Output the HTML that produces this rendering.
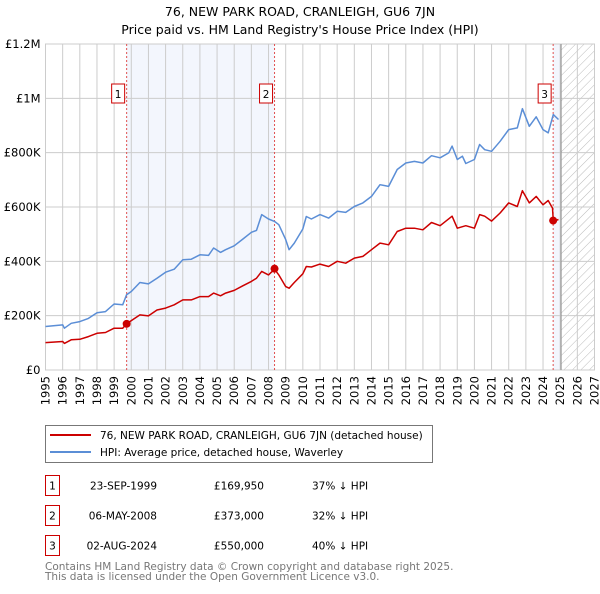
<!DOCTYPE html>
<html><head><meta charset="utf-8"><style>
body{margin:0;background:#fff;width:600px;height:590px;overflow:hidden;font-family:"DejaVu Sans","Liberation Sans",sans-serif}
svg text{font-family:"DejaVu Sans","Liberation Sans",sans-serif}
</style></head><body>
<svg id="c" width="600" height="590"></svg>
<script>
const hpiYears=[1995,1996,1996.1,1996.5,1997,1997.5,1998,1998.5,1999,1999.5,1999.73,2000,2000.5,2001,2001.5,2002,2002.5,2003,2003.5,2004,2004.5,2004.8,2005.2,2005.5,2006,2006.5,2007,2007.3,2007.6,2008,2008.35,2008.6,2009,2009.2,2009.5,2010,2010.2,2010.5,2011,2011.5,2012,2012.5,2013,2013.5,2014,2014.5,2015,2015.5,2016,2016.5,2017,2017.5,2018,2018.5,2018.7,2019,2019.3,2019.5,2020,2020.3,2020.6,2021,2021.5,2022,2022.5,2022.8,2023.2,2023.6,2024,2024.3,2024.6,2024.9];
const hpiValues=[160,166,154,172,178,190,211,215,243,240,277,289,322,317,338,360,371,406,408,424,422,449,433,443,457,482,507,514,572,556,547,535,480,443,467,519,565,556,572,559,584,580,602,615,639,682,676,738,762,768,762,789,781,799,824,775,787,760,775,830,811,805,842,885,891,962,897,932,885,873,940,922];
const paidYears=[1995,1996,1996.1,1996.5,1997,1997.5,1998,1998.5,1999,1999.5,1999.73,2000,2000.5,2001,2001.5,2002,2002.5,2003,2003.5,2004,2004.5,2004.8,2005.2,2005.5,2006,2006.5,2007,2007.3,2007.6,2008,2008.35,2008.6,2009,2009.2,2009.5,2010,2010.2,2010.5,2011,2011.5,2012,2012.5,2013,2013.5,2014,2014.5,2015,2015.5,2016,2016.5,2017,2017.5,2018,2018.7,2019,2019.5,2020,2020.3,2020.6,2021,2021.5,2022,2022.5,2022.8,2023.2,2023.6,2024,2024.3,2024.55,2024.6,2024.9];
const paidValues=[101,105,98,111,113,123,135,138,154,154,170,182,203,199,221,228,240,258,258,270,270,283,273,283,293,310,326,338,363,350,371,350,307,301,322,354,381,379,390,381,400,393,412,418,443,467,461,510,522,522,516,543,531,566,522,531,522,572,566,548,578,615,602,660,615,639,608,624,596,548,554];
const saleYears=[1999.73,2008.35,2024.59];
const saleValues=[170,373,550];
const saleLabels=["1","2","3"];
const yTicks=[0,200,400,600,800,1000,1200];
const yTickLabels=["£0","£200K","£400K","£600K","£800K","£1M","£1.2M"];
const xTicks=[1995,1996,1997,1998,1999,2000,2001,2002,2003,2004,2005,2006,2007,2008,2009,2010,2011,2012,2013,2014,2015,2016,2017,2018,2019,2020,2021,2022,2023,2024,2025,2026,2027];

const NS="http://www.w3.org/2000/svg",svg=document.getElementById('c');
const L=45.5,R=594.5,T=44,B=370;
const x=v=>L+(v-1995)/32*(R-L);
const y=v=>B-v/1200*(B-T);
function el(t,a,p){const e=document.createElementNS(NS,t);for(const k in a)e.setAttribute(k,a[k]);(p||svg).appendChild(e);return e;}
function txt(s,a,p){const e=el('text',a,p);e.textContent=s;return e;}

const defs=el('defs',{});
const pat=el('pattern',{id:'hatch',width:6,height:6,patternUnits:'userSpaceOnUse',patternTransform:'rotate(45)'},defs);
el('line',{x1:0,y1:0,x2:0,y2:6,stroke:'#bbb','stroke-width':1},pat);

let t=txt('76, NEW PARK ROAD, CRANLEIGH, GU6 7JN',{x:300,y:16,'text-anchor':'middle','font-size':12.5,fill:'#000'});

t=txt("Price paid vs. HM Land Registry's House Price Index (HPI)",{x:300,y:34,'text-anchor':'middle','font-size':12.5,fill:'#000'});


let r=el('rect',{x:x(saleYears[0]),y:T,width:x(saleYears[1])-x(saleYears[0]),height:B-T,fill:'#f3f6fd'});

r=el('rect',{x:x(saleYears[2]),y:T,width:x(2025.05)-x(saleYears[2]),height:B-T,fill:'#f3f6fd'});

r=el('rect',{x:x(2025.05),y:T,width:R-x(2025.05),height:B-T,fill:'url(#hatch)'});


xTicks.forEach(v=>{const g=el('line',{x1:x(v),x2:x(v),y1:T,y2:B,stroke:'#ccc','stroke-width':1});

const l=txt(String(v),{transform:`translate(${x(v)+4},${B+6}) rotate(-90)`,'text-anchor':'end','font-size':11.5,fill:'#000'});
});
yTicks.forEach((v,i)=>{const g=el('line',{x1:L,x2:R,y1:y(v),y2:y(v),stroke:'#ccc','stroke-width':1});

const l=txt(yTickLabels[i],{x:L-5,y:y(v)+4,'text-anchor':'end','font-size':11.5,fill:'#000'});
});
const fr=el('rect',{x:L,y:T,width:R-L,height:B-T,fill:'none',stroke:'#ccc','stroke-width':1});

const sep=el('line',{x1:x(2025.05),x2:x(2025.05),y1:T,y2:B,stroke:'#999','stroke-width':1.2});


saleYears.forEach((v,i)=>{const d=el('line',{x1:x(v),x2:x(v),y1:T,y2:B,stroke:'#e05050','stroke-width':1,'stroke-dasharray':'2,2'});

const bx=el('rect',{x:x(v)-15,y:84,width:13,height:19,fill:'#fff',stroke:'#cc0000','stroke-width':1});

const lt=txt(saleLabels[i],{x:x(v)-8.5,y:98,'text-anchor':'middle','font-size':10.5,fill:'#000'});
});

function line(xs,vs,c,name){const p=el('path',{d:xs.map((v,i)=>(i?'L':'M')+x(v).toFixed(1)+','+y(vs[i]).toFixed(1)).join(''),fill:'none',stroke:c,'stroke-width':1.5,'stroke-linejoin':'round'});
}
line(hpiYears,hpiValues,'#5b8ed6','hpi-line');
line(paidYears,paidValues,'#cc0000','price-paid-line');
saleYears.forEach((v,i)=>{const c=el('circle',{cx:x(v),cy:y(saleValues[i]),r:4,fill:'#cc0000'});
});

const lg=el('g',{});
el('rect',{x:45.5,y:425.5,width:387,height:37,fill:'#fff',stroke:'#777','stroke-width':1},lg);
el('line',{x1:50,x2:91,y1:435,y2:435,stroke:'#cc0000','stroke-width':2},lg);
el('line',{x1:50,x2:91,y1:452,y2:452,stroke:'#5b8ed6','stroke-width':2},lg);
t=txt('76, NEW PARK ROAD, CRANLEIGH, GU6 7JN (detached house)',{x:100,y:439,'font-size':10.5,fill:'#000'},lg);

t=txt('HPI: Average price, detached house, Waverley',{x:100,y:456,'font-size':10.5,fill:'#000'},lg);


const rows=[["1","23-SEP-1999","£169,950","37% ↓ HPI"],["2","06-MAY-2008","£373,000","32% ↓ HPI"],["3","02-AUG-2024","£550,000","40% ↓ HPI"]];
rows.forEach((rw,i)=>{const g=el('g',{});
const yy=475.5+i*30;
el('rect',{x:45.5,y:yy,width:14,height:20,fill:'#fff',stroke:'#cc0000','stroke-width':1},g);
txt(rw[0],{x:52.5,y:yy+14,'text-anchor':'middle','font-size':10.5,fill:'#000'},g);
txt(rw[1],{x:157,y:yy+14,'text-anchor':'end','font-size':10.5,fill:'#000'},g);
txt(rw[2],{x:264,y:yy+14,'text-anchor':'end','font-size':10.5,fill:'#000'},g);
txt(rw[3],{x:312,y:yy+14,'font-size':10.5,fill:'#000'},g);});

t=txt('Contains HM Land Registry data © Crown copyright and database right 2025.',{x:45,y:570,'font-size':10.5,fill:'#777'});

t=txt('This data is licensed under the Open Government Licence v3.0.',{x:45,y:580,'font-size':10.5,fill:'#777'});

</script>
</body></html>
